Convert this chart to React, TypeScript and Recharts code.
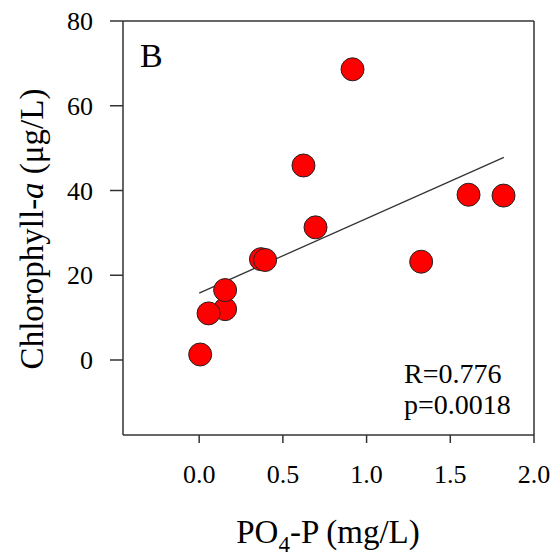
import React from 'react';
import { ScatterChart, Scatter, XAxis, YAxis, ReferenceLine, Customized } from 'recharts';

const po4 = [0.155, 0.056, 0.155, 0.006, 0.369, 0.394, 0.623, 0.695, 0.916, 1.326, 1.609, 1.818];
const chla = [12.0, 11.0, 16.5, 1.3, 23.8, 23.6, 45.9, 31.3, 68.6, 23.2, 39.0, 38.8];
const fitX = [0.0, 1.82];
const fitY = [15.8, 47.8];
const xTicks = [0, 0.5, 1, 1.5, 2];
const yTicks = [0, 20, 40, 60, 80];
const xDomain = [-0.455, 2.0];
const yDomain = [-17.7, 80];
const panelLabel = 'B';
const statR = 'R=0.776';
const statP = 'p=0.0018';

const points = po4.map((x, i) => ({ x, y: chla[i] }));
const fit = fitX.map((x, i) => ({ x, y: fitY[i] }));

const FONT = '"Liberation Serif", "Times New Roman", serif';
const FRAME = '#333';

const Dot = (props: any) => {
  const { cx, cy } = props;
  if (cx == null || cy == null) return <g />;
  return <circle cx={cx} cy={cy} r={11.5} fill="#ff0000" stroke="#222" strokeWidth={1} />;
};

const NoDot = () => <g />;

const Texts = () => (
  <g fontFamily={FONT} fill="#000">
    <text x={140} y={67} fontSize={34}>{panelLabel}</text>
    <text x={404} y={383} fontSize={28}>{statR}</text>
    <text x={404} y={414} fontSize={28}>{statP}</text>
    <text x={328} y={543} fontSize={33} textAnchor="middle">
      PO<tspan dy={9} fontSize={23}>4</tspan><tspan dy={-9}>-P (mg/L)</tspan>
    </text>
    <text x={43} y={229} fontSize={33} textAnchor="middle" transform="rotate(-90, 43, 229)">
      Chlorophyll-<tspan fontStyle="italic">a</tspan> (μg/L)
    </text>
  </g>
);

export default function App() {
  return (
    <div style={{ position: 'absolute', left: 0, top: 0, width: 552, height: 557, background: '#fff' }}>
      <ScatterChart width={552} height={557} margin={{ top: 21, right: 18, left: 0, bottom: 0 }}>
        <XAxis
          type="number"
          dataKey="x"
          domain={xDomain}
          ticks={xTicks}
          allowDataOverflow
          height={122}
          tickSize={8}
          tickMargin={22}
          tickFormatter={(v: number) => v.toFixed(1)}
          axisLine={{ stroke: FRAME, strokeWidth: 1.5 }}
          tickLine={{ stroke: FRAME, strokeWidth: 1.5 }}
          tick={{ fill: '#000', fontSize: 26, fontFamily: FONT }}
          interval={0}
        />
        <YAxis
          type="number"
          dataKey="y"
          domain={yDomain}
          ticks={yTicks}
          allowDataOverflow
          width={123}
          tickSize={13}
          tickMargin={17}
          axisLine={{ stroke: FRAME, strokeWidth: 1.5 }}
          tickLine={{ stroke: FRAME, strokeWidth: 1.5 }}
          tick={{ fill: '#000', fontSize: 26, fontFamily: FONT }}
          interval={0}
        />
        <ReferenceLine y={80} stroke={FRAME} strokeWidth={1.5} />
        <ReferenceLine x={2} stroke={FRAME} strokeWidth={1.5} />
        <Scatter
          data={fit}
          line={{ stroke: '#333', strokeWidth: 1.3 }}
          shape={NoDot}
          isAnimationActive={false}
        />
        <Scatter data={points} shape={Dot} isAnimationActive={false} />
        <Customized component={Texts} />
      </ScatterChart>
    </div>
  );
}
